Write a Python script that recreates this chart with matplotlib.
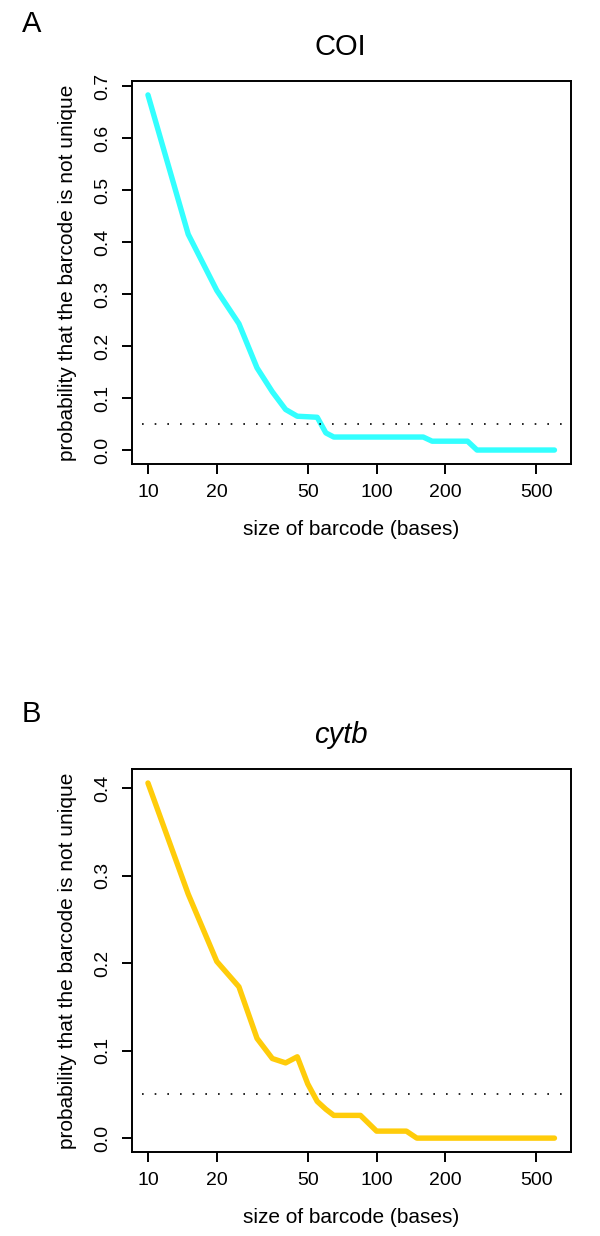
import numpy as np
import matplotlib
matplotlib.use("Agg")
import matplotlib.pyplot as plt

plt.rcParams['font.family'] = ['Liberation Sans', 'DejaVu Sans']

# barcode sizes (bases) and probability that barcode is not unique
coi_size = [10, 15, 20, 25, 30, 35, 40, 45, 50, 55, 60, 65, 160, 175, 250, 275, 600]
coi_prob = [0.683, 0.415, 0.307, 0.243, 0.158, 0.112, 0.078, 0.065, 0.064, 0.063,
            0.033, 0.025, 0.025, 0.017, 0.017, 0.0, 0.0]

cytb_size = [10, 15, 20, 25, 30, 35, 40, 45, 50, 55, 60, 65, 85, 100, 135, 150, 600]
cytb_prob = [0.406, 0.279, 0.202, 0.173, 0.114, 0.091, 0.086, 0.093, 0.062, 0.042,
             0.033, 0.026, 0.026, 0.008, 0.008, 0.0, 0.0]

threshold = 0.05
threshold_span = [9.4, 656]

x_ticks = [10, 20, 50, 100, 200, 500]

panels = [
    ("A", "COI", "normal", coi_size, coi_prob, "#33ffff", [0.0, 0.1, 0.2, 0.3, 0.4, 0.5, 0.6, 0.7]),
    ("B", "cytb", "italic", cytb_size, cytb_prob, "#ffcc0a", [0.0, 0.1, 0.2, 0.3, 0.4]),
]

# axes boxes in figure fractions (left, bottom, width, height)
boxes = [[0.2195, 0.6244, 0.7317, 0.3103],
         [0.2195, 0.0677, 0.7317, 0.3103]]
letter_pos = [(0.0527, 0.9806), (0.0522, 0.4223)]

fig = plt.figure(figsize=(6, 12.36), dpi=100)

for (letter, title, style, xs, ys, col, yt), box, lp in zip(panels, boxes, letter_pos):
    ax = fig.add_axes(box)
    ax.plot(xs, ys, color=col, lw=3.9, solid_capstyle='round', solid_joinstyle='round')
    ax.plot(threshold_span, [threshold, threshold], color='black',
            linestyle=(0, (1.0, 6.6)), lw=1.2)
    ax.set_xscale('log')
    # R-style 4% padding of the data range
    lx = np.log10([min(xs), max(xs)])
    pad = 0.04 * (lx[1] - lx[0])
    ax.set_xlim(10 ** (lx[0] - pad), 10 ** (lx[1] + pad))
    ymax = max(ys)
    ax.set_ylim(-0.04 * ymax, ymax * 1.04)
    ax.set_xticks(x_ticks)
    ax.set_xticklabels([str(t) for t in x_ticks])
    ax.minorticks_off()
    ax.set_yticks(yt)
    ax.set_yticklabels([f"{v:.1f}" for v in yt], rotation=90, va='center')
    ax.tick_params(direction='out', length=7, width=1.4, labelsize=14, pad=7.5)
    for s in ax.spines.values():
        s.set_linewidth(1.4)
    ax.set_xlabel("size of barcode (bases)", fontsize=15)
    ax.xaxis.set_label_coords(0.5, -0.146)
    ax.set_ylabel("probability that the barcode is not unique", fontsize=15)
    ax.yaxis.set_label_coords(-0.125, 0.5)
    ax.set_title(title, fontsize=21, fontstyle=style, x=0.476, y=1.068, pad=0)
    fig.text(lp[0], lp[1], letter, fontsize=21, ha='center', va='center')

fig.savefig("out.png", dpi=100)
